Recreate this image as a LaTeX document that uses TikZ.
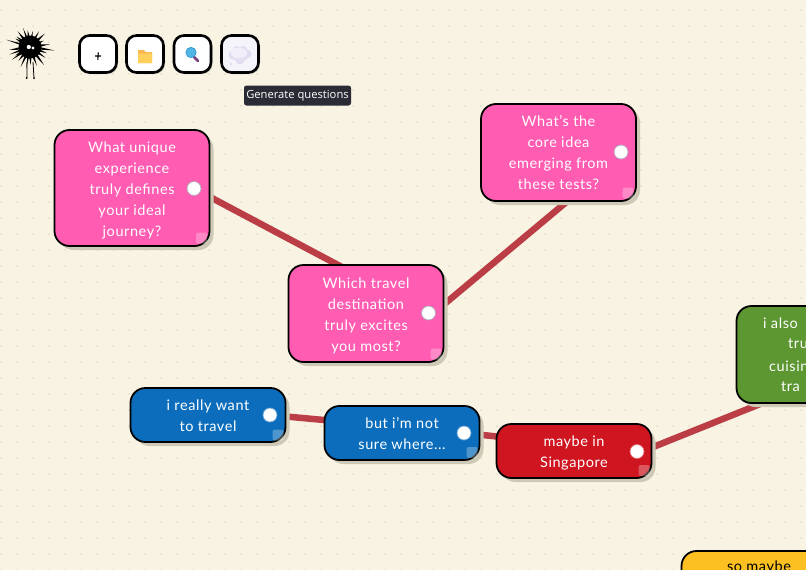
\documentclass[tikz,border=0pt]{standalone}
\usepackage{fontspec}
\setmainfont[LetterSpace=4]{Lato}
\newfontfamily\uifont{Open Sans}
\usetikzlibrary{shadows,calc}
\definecolor{paper}{HTML}{F9F3E3}
\definecolor{griddot}{HTML}{DDD8C6}
\definecolor{shade}{HTML}{CDC9B6}
\definecolor{linkred}{HTML}{BB3D45}
\definecolor{cpink}{HTML}{FF5CB2}
\definecolor{cblue}{HTML}{0B6DBB}
\definecolor{cred}{HTML}{CF1520}
\definecolor{cgreen}{HTML}{5D9732}
\definecolor{cyellow}{HTML}{FCC022}
\definecolor{tipdark}{HTML}{2B2B36}
\definecolor{folderback}{HTML}{F8B84E}
\definecolor{folderfront}{HTML}{FFCF5C}
\definecolor{lensblue}{HTML}{4FB5E5}
\definecolor{lensedge}{HTML}{2F8FCB}
\definecolor{lenshandle}{HTML}{7B3F80}
\definecolor{cloudbase}{HTML}{E2DDF1}
\definecolor{cloudtop}{HTML}{F1EEF9}
\definecolor{askfill}{HTML}{F6F4FB}
\definecolor{handlering}{HTML}{B0A8BC}
\pgfdeclarelayer{paperlayer}
\pgfdeclarelayer{linklayer}
\pgfsetlayers{paperlayer,linklayer,main}
\newcommand{\lift}{\rule{0pt}{15pt}}
\newcommand{\liftsmall}{\rule{0pt}{13pt}}
\tikzset{
  card/.style={rectangle,rounded corners=15pt,draw=black,line width=1.8pt,minimum width=155pt,
    align=center,text=white,font=\fontsize{14.5}{21}\selectfont,inner sep=0pt,
    drop shadow={shadow xshift=4pt,shadow yshift=-4pt,fill=shade,opacity=1}},
  pinkcard/.style={card,fill=cpink,minimum height=#1},
  bluecard/.style={card,fill=cblue,minimum height=54pt},
  redcard/.style={card,fill=cred,minimum height=54pt},
  handle/.style={circle,fill=white,draw=#1,line width=.7pt,minimum size=14pt,inner sep=0pt},
  fold/.style={rectangle,rounded corners=1.5pt,fill=white,fill opacity=.28,minimum size=11pt,inner sep=0pt},
  link/.style={draw=linkred,line width=6.5pt},
  toolbtn/.style={rectangle,rounded corners=10pt,draw=black,line width=2.6pt,fill=white,minimum size=37pt,inner sep=0pt,
    drop shadow={shadow xshift=1.5pt,shadow yshift=-1.5pt,fill=shade,opacity=1}},
  greenline/.style={anchor=west,text=white,font=\fontsize{14.5}{21}\selectfont,inner sep=0pt},
  spike/.style={fill=black}
}
\begin{document}
\begin{tikzpicture}[x=1pt,y=-1pt]
\useasboundingbox (0,0) rectangle (806,570);
\clip (0,0) rectangle (806,570);
\begin{pgfonlayer}{paperlayer}
  \fill[paper] (0,0) rectangle (806,570);
  \foreach \i in {0,...,50}{\foreach \j in {0,...,35}{
    \fill[griddot] ({1+16*\i},{10+16*\j}) circle (.8);
  }}
\end{pgfonlayer}

% cards
\node[pinkcard=116pt] (unique) at (132,188) {\lift What unique\\experience\\truly defines\\your ideal\\journey?};
\node[pinkcard=97pt] (dest) at (366,313.5) {\lift Which travel\\destination\\truly excites\\you most?};
\node[pinkcard=97pt] (core) at (558.5,152.5) {What's the\\core idea\\emerging from\\these tests?};
\node[bluecard] (want) at (208,415) {\liftsmall i really want\\to travel};
\node[bluecard] (sure) at (402,433) {\liftsmall but i'm not\\sure where...};
\node[redcard] (sing) at (574,451) {\lift maybe in\\Singapore};
\node[card,fill=cgreen,minimum height=97pt] (cuisine) at (814,354.5) {};
\node[card,fill=cyellow,minimum height=60pt,text=black] (maybe) at (759,581) {};

\node[greenline] (g1) at (763,323) {i also};
\node[greenline] (g2) at (788,344) {tru};
\node[greenline] (g3) at (769,366) {cuisin};
\node[greenline] (g4) at (781,387) {tra};
\node[anchor=center,text=black,font=\fontsize{14.5}{21}\selectfont,inner sep=0pt] (y1) at (759,567) {so maybe};

% corner folds
\node[fold] at (201.5,238) {};
\node[fold] at (436,354) {};
\node[fold] at (628,193) {};
\node[fold] at (278,435) {};
\node[fold] at (472,452.5) {};
\node[fold] at (644,470.5) {};

% handles
\node[handle=handlering] (hunique) at (194,188.5) {};
\node[handle=handlering] (hdest) at (428.5,313) {};
\node[handle=handlering] (hcore) at (621,152) {};
\node[handle=cblue!60!white] (hwant) at (270,415) {};
\node[handle=cblue!60!white] (hsure) at (464,433) {};
\node[handle=cred!60!white] (hsing) at (637,451.5) {};
\node[handle=white] (hcuisine) at (877,355) {};

% connectors
\begin{pgfonlayer}{linklayer}
  \draw[link] (hunique.center) -- (hdest.center);
  \draw[link] ([shift={(4,1)}]hdest.center) -- ([shift={(4,1)}]hcore.center);
  \draw[link] (hwant.center) -- (hsure.center);
  \draw[link] (hsure.center) -- (hsing.center);
  \draw[link] ([shift={(0,2)}]hsing.center) -- ([shift={(0,2)}]hcuisine.center);
\end{pgfonlayer}

% toolbar
\node[toolbtn] (bnew) at (98,54) {};
\node[toolbtn] (bopen) at (145,54) {};
\node[toolbtn] (bfind) at (192.5,54) {};
\node[toolbtn,fill=askfill] (bask) at (240,54) {};

\draw[black,line width=1.1pt] (95,56) -- (101,56) (98.3,52.5) -- (97.8,60);

\fill[folderback,rounded corners=.7pt] (138,50) -- (144,50) -- (145.5,52) -- (152,52) -- (152,63) -- (138,63) -- cycle;
\fill[folderfront,rounded corners=.7pt] (138,53.5) rectangle (152,63);

\draw[line width=2.6pt,color=lenshandle,line cap=round] (194,57) -- (198,61);
\draw[fill=lensblue,draw=lensedge,line width=.6pt] (191,52.5) circle (5.2);

\fill[cloudbase] (240,55) ellipse (9 and 6.5);
\fill[cloudbase] (233,55) circle (4.5) (247,54) circle (4.5) (237,50.5) circle (4.5) (243,50.5) circle (4.5) (240,60) circle (4.5);
\fill[cloudtop] (239,53) ellipse (8 and 5.5);
\fill[cloudbase] (231,64) circle (1.5);

\node[fill=tipdark,rounded corners=2.5pt,text=white,font=\uifont\fontsize{11.2}{14}\selectfont,
  minimum width=107pt,minimum height=20pt,inner sep=0pt] (tip) at (297.5,95.5) {\raisebox{-1.2pt}{Generate questions}};

% creature
\begin{scope}[shift={(30,47)}]
  \foreach \a/\r/\w in {197/25/9,210/17/14,172/21/14,160/22/11,145/22/12,232/20/14,250/20/10,262/17/14,280/16/12,300/18/11,318/20/14,335/15/14,352/20/13,8/25/12,20/18/14,35/19/12,52/23/14,70/20/12,88/18/14,100/22/9,115/22/12,130/18/14,150/17/14,218/17/14}{
    \fill[spike] (\a+\w:7) -- (\a:\r) -- (\a-\w:7) -- cycle;
  }
  \fill[black] (0,0) circle (11.5);
  \draw[black,line width=.8pt] (-3,15) -- (-3,31) (3,15) -- (4,31);
  \fill[black] (-3.3,31) circle (1) (4,31) circle (1);
  \fill[white] (-1.2,0) circle (2.1) (3,1) circle (1.7);
\end{scope}
\end{tikzpicture}
\end{document}
